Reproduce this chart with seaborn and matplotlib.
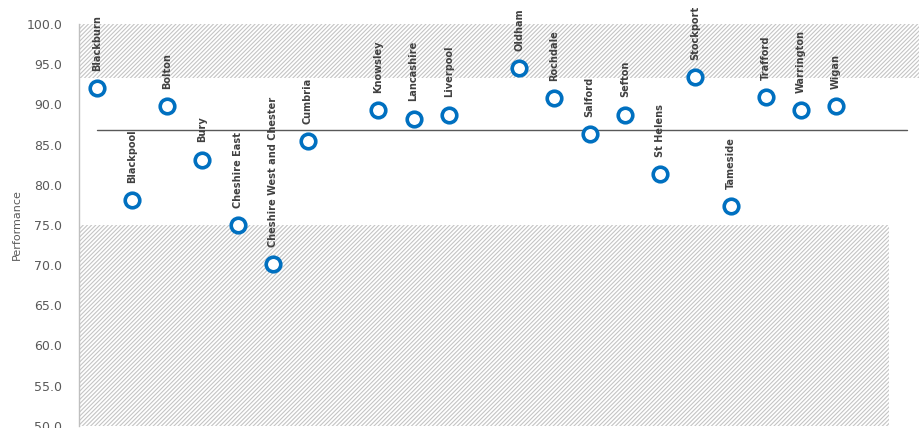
import matplotlib
matplotlib.use("Agg")
import matplotlib.pyplot as plt
import numpy as np
import pandas as pd
import seaborn as sns

sns.set_style("white")
plt.rcParams["font.family"] = ["DejaVu Sans"]
plt.rcParams["hatch.linewidth"] = 0.8
plt.rcParams["hatch.color"] = "#c4c4c4"

# areas in display order, blanks are slots with no data
areas = ["Blackburn", "Blackpool", "Bolton", "Bury", "Cheshire East",
         "Cheshire West and Chester", "Cumbria", "", "Knowsley", "Lancashire",
         "Liverpool", "", "Oldham", "Rochdale", "Salford", "Sefton", "St Helens",
         "Stockport", "Tameside", "Trafford", "Warrington", "Wigan", ""]
performance = [92.0, 78.1, 89.8, 83.1, 75.0, 70.1, 85.4, np.nan, 89.3, 88.2,
               88.7, np.nan, 94.5, 90.8, 86.3, 88.7, 81.3, 93.4, 77.3, 90.9,
               89.3, 89.8, np.nan]
upper_band = 93.3
lower_band = 75.0
average = 86.8

df = pd.DataFrame({"pos": range(len(areas)), "area": areas, "performance": performance})

fig = plt.figure(figsize=(9.19, 4.28), dpi=100)
ax = fig.add_axes([0.086, 0.005, 0.914, 0.939])

n = len(areas)
ax.axhspan(upper_band, 100, xmin=0, xmax=1, facecolor="white", hatch="////////",
           edgecolor="#c4c4c4", linewidth=0, zorder=0)
ax.fill_between([-0.5, n - 0.5], 50, lower_band, facecolor="white", hatch="////////",
                edgecolor="#c4c4c4", linewidth=0, zorder=0)
ax.plot([0, n], [average, average], color="#595959", linewidth=1, zorder=1)

sns.scatterplot(data=df, x="pos", y="performance", ax=ax, marker="o", s=110,
                facecolor="white", edgecolor="#0070C0", linewidth=2.6, zorder=3)

for _, row in df.dropna().iterrows():
    ax.annotate(row["area"], (row["pos"], row["performance"]), xytext=(0, 12.5),
                textcoords="offset points", rotation=90, ha="center", va="bottom",
                fontsize=7.8, fontweight="bold", fontstretch="condensed",
                color="#404040", family=["Liberation Sans Narrow", "DejaVu Sans"])

ax.set_xlim(-0.5, n - 0.5 + 30 / 35.2)
ax.set_ylim(50, 100)
ax.set_yticks(np.arange(50, 100.1, 5))
ax.set_yticklabels([f"{v:.1f}" for v in np.arange(50, 100.1, 5)])
ax.tick_params(axis="y", labelsize=9, colors="#595959", length=0, pad=12)
ax.set_xticks([])
ax.set_xlabel("")
ax.set_ylabel("Performance", fontsize=8, color="#595959", labelpad=3)
for side in ["top", "right", "bottom"]:
    ax.spines[side].set_visible(False)
ax.spines["left"].set_color("#bfbfbf")
ax.spines["left"].set_linewidth(1)

fig.savefig("out.png", dpi=100)
